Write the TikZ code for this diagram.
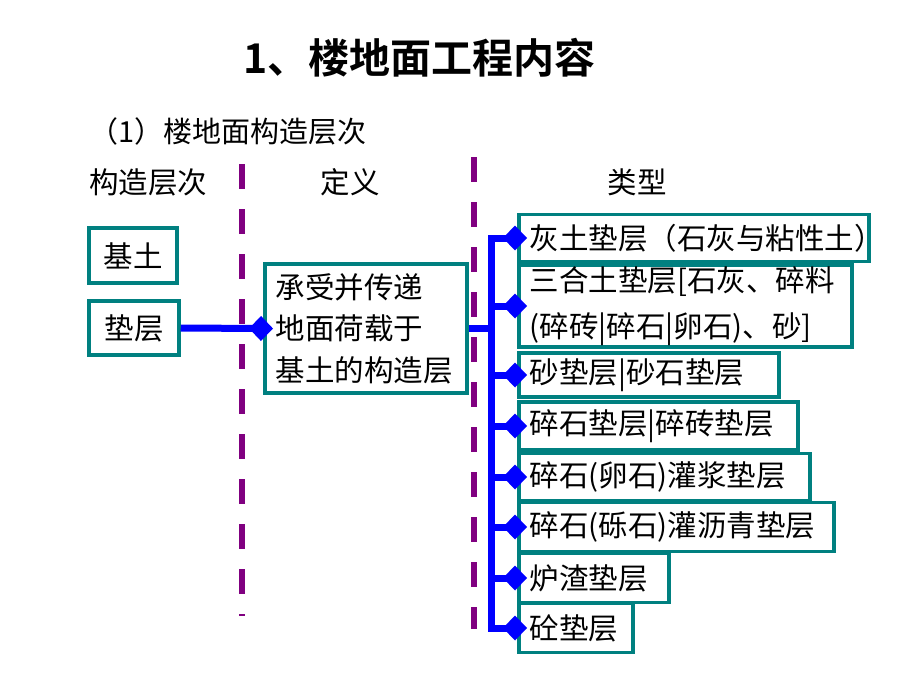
\documentclass[tikz,border=0pt]{standalone}
\usepackage{fontspec}
\setmainfont{Noto Sans CJK SC}[BoldFont={* Bold}]
\usetikzlibrary{arrows.meta}

\definecolor{boxteal}{RGB}{0,128,128}
\definecolor{sepviolet}{RGB}{128,0,128}

\begin{document}
\begin{tikzpicture}[x=1pt,y=-1pt,
	box/.style={draw=boxteal,line width=3.5pt,fill=white,inner xsep=11pt,inner ysep=0pt,align=left,anchor=west,font=\fontsize{29.5}{46}\selectfont},
	bluelink/.style={draw=blue,line width=7pt},
	sepline/.style={draw=sepviolet,line width=6pt,dash pattern=on 25pt off 20pt},
	tipd/.style={-{Diamond[length=24pt 0 0,width=25pt 0 0]},shorten >=-10pt}]
	
	\useasboundingbox (0,0) rectangle (920,690); % 页面范围
	
	% 标题
	\node[anchor=west,font=\fontsize{41}{48}\selectfont\bfseries] (title) at (240,58) {1、楼地面工程内容};
	\node[anchor=west,font=\fontsize{29}{34}\selectfont] (sub) at (86,131) {（1）楼地面构造层次};
	
	% 三列表头
	\node[font=\fontsize{29.5}{34}\selectfont] (hd1) at (148,182) {构造层次};
	\node[font=\fontsize{29.5}{34}\selectfont] (hd2) at (350,182) {定义};
	\node[font=\fontsize{29.5}{34}\selectfont] (hd3) at (637,182) {类型};
	
	% 紫色分隔虚线
	\draw[sepline] (242,164) -- (242,616);
	\draw[sepline] (474,157) -- (474,629);
	
	% 构造层次
	\node[box,align=center,anchor=center,minimum width=88,minimum height=55] (jitu) at (133,255.5) {基土};
	\node[box,align=center,anchor=center,minimum width=90,minimum height=54] (dianceng) at (134,328) {垫层};
	
	% 定义
	\node[box,font=\fontsize{29.5}{41.5}\selectfont,text width=180,minimum height=129] (dingyi) at (263,328.5) {承受并传递\\地面荷载于\\基土的构造层};
	
	% 类型
	\node[box,text width=328,minimum height=47] (t1) at (517,238) {灰土垫层（石灰与粘性土）};
	\node[box,text width=311,minimum height=82] (t2) at (517,306) {三合土垫层[石灰、碎料\\(碎砖|碎石|卵石)、砂]};
	\node[box,text width=238,minimum height=44] (t3) at (517,375) {砂垫层|砂石垫层};
	\node[box,text width=257,minimum height=48] (t4) at (517,426) {碎石垫层|碎砖垫层};
	\node[box,text width=269,minimum height=47] (t5) at (517,477) {碎石(卵石)灌浆垫层};
	\node[box,text width=293,minimum height=49] (t6) at (517,527) {碎石(砾石)灌沥青垫层};
	\node[box,text width=128,minimum height=49] (t7) at (517,578) {炉渣垫层};
	\node[box,text width=92,minimum height=49] (t8) at (517,628) {砼垫层};
	
	% 蓝色连线
	\coordinate (T) at (491,328.5); % 竖干线位置
	\draw[bluelink,tipd] (dianceng.east) -- (dingyi.west);
	\draw[bluelink] (dingyi.east) -- (T);
	\draw[bluelink,line cap=rect] (t1.west -| T) -- (t8.west -| T);
	\foreach \i in {1,...,8}
		\draw[bluelink,tipd] (t\i.west -| T) -- (t\i.west);
	
\end{tikzpicture}
\end{document}
